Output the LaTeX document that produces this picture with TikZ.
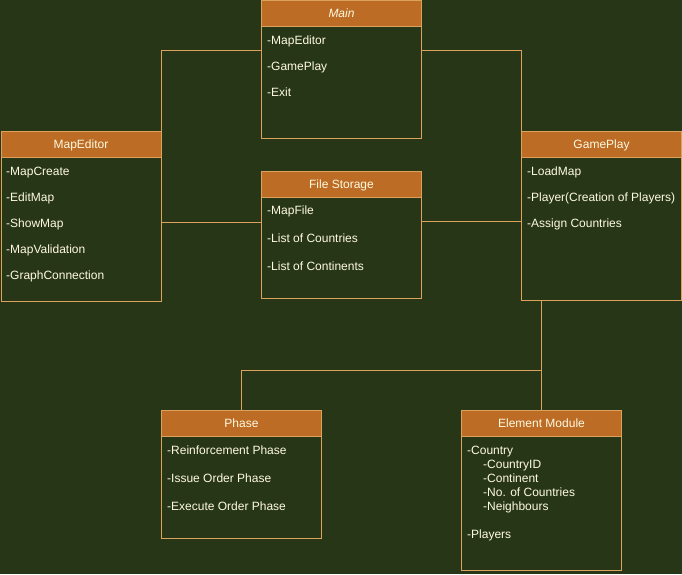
\documentclass[tikz,border=0pt]{standalone}
\usepackage{fontspec}
\setmainfont{Liberation Sans}
\usepackage{tikz}
\usetikzlibrary{positioning}

\definecolor{bgolive}{HTML}{283618}
\definecolor{headfill}{HTML}{BC6C25}
\definecolor{edgeline}{HTML}{DDA15E}
\definecolor{textcream}{HTML}{FEFAE0}

\begin{document}
\begin{tikzpicture}[x=1pt, y=-1pt,
  head/.style={rectangle, draw=edgeline, fill=headfill, line width=1pt, minimum width=160pt, minimum height=26pt, inner sep=0pt, text height=8.6pt, text depth=0pt, anchor=north west, text=textcream, font=\fontsize{12}{14}\selectfont},
  body/.style={rectangle, draw=edgeline, line width=1pt, minimum width=160pt, inner sep=0pt, anchor=north west},
  item/.style={anchor=base west, yshift=-4.3pt, inner sep=0pt, text=textcream, font=\fontsize{12}{14}\selectfont},
  link/.style={draw=edgeline, line width=1pt}]
\fill [bgolive] (0,0) rectangle (682,574);
\useasboundingbox (0,0) rectangle (682,574);
% classes
\node (MAINH) [head] at (261,0) {\textit{Main}};
\node (MAINB) [body, minimum height=112pt] at (261,26) {};
\node (MAPEDH) [head] at (0.5,131) {MapEditor};
\node (MAPEDB) [body, minimum height=144pt] at (0.5,157) {};
\node (FILEH) [head] at (261,171) {File Storage};
\node (FILEB) [body, minimum height=101pt] at (261,197) {};
\node (GAMEH) [head] at (521,131) {GamePlay};
\node (GAMEB) [body, minimum height=143pt] at (521,157) {};
\node (PHASEH) [head] at (161,410) {Phase};
\node (PHASEB) [body, minimum height=102pt] at (161,436) {};
\node (ELEMH) [head] at (461,410) {Element Module};
\node (ELEMB) [body, minimum height=134pt] at (461,436) {};
% members
\node (main1) [item] at (267,40) {-MapEditor};
\node (main2) [item] at (267,66) {-GamePlay};
\node (main3) [item] at (267,92) {-Exit};
\node (maped1) [item] at (6,171) {-MapCreate};
\node (maped2) [item] at (6,197) {-EditMap};
\node (maped3) [item] at (6,223) {-ShowMap};
\node (maped4) [item] at (6,249) {-MapValidation};
\node (maped5) [item] at (6,275) {-GraphConnection};
\node (file1) [item] at (267,210) {-MapFile};
\node (file2) [item] at (267,238) {-List of Countries};
\node (file3) [item] at (267,266) {-List of Continents};
\node (game1) [item] at (527,171) {-LoadMap};
\node (game2) [item] at (527,197) {-Player(Creation of Players)};
\node (game3) [item] at (527,223) {-Assign Countries};
\node (phase1) [item] at (167,450) {-Reinforcement Phase};
\node (phase2) [item] at (167,478) {-Issue Order Phase};
\node (phase3) [item] at (167,506) {-Execute Order Phase};
\node (elem1) [item] at (467,450) {-Country};
\node (elem2) [item] at (483,464) {-CountryID};
\node (elem3) [item] at (483,478) {-Continent};
\node (elem4) [item] at (483,492) {-No. of Countries};
\node (elem5) [item] at (483,506) {-Neighbours};
\node (elem6) [item] at (467,534) {-Players};
% links
\draw [link] ([yshift=-24pt]MAINB.north west) -| (MAPEDH.north east);
\draw [link] ([yshift=-24pt]MAINB.north east) -| (GAMEH.north west);
\draw [link] ([yshift=7pt]MAPEDB.east) coordinate (mf) -- (mf -| FILEB.west);
\draw [link] ([yshift=8pt]GAMEB.west) coordinate (gf) -- (gf -| FILEB.east);
\draw [link] (ELEMH.north) -- (ELEMH.north |- GAMEB.south);
\draw [link] (PHASEH.north) |- ([yshift=40pt]ELEMH.north);
\end{tikzpicture}
\end{document}
